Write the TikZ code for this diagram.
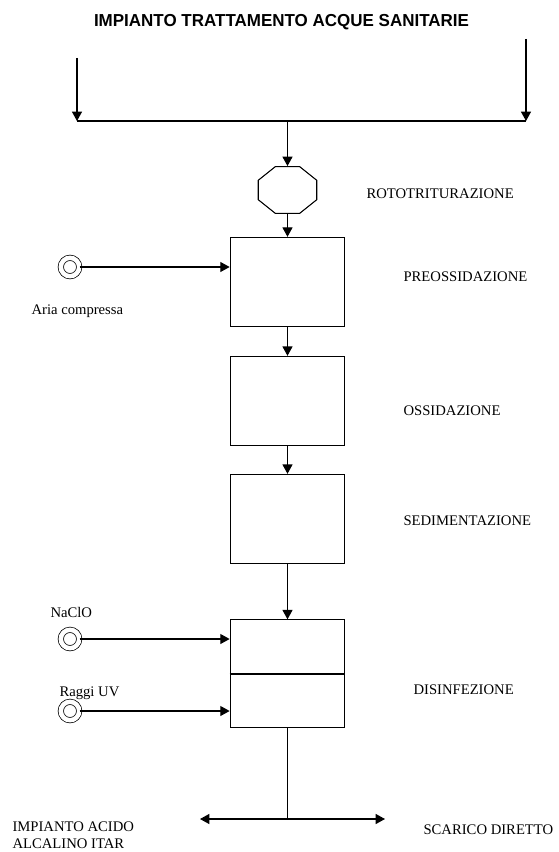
\documentclass[tikz,border=0pt]{standalone}
\usepackage{fontspec}
\setmainfont{Liberation Serif}
\newfontfamily\titlefont{Liberation Sans}
\usetikzlibrary{arrows.meta}
\usetikzlibrary{shapes.geometric,positioning}

\begin{document}
\begin{tikzpicture}[x=0.75pt,y=-0.75pt]
  \tikzset{stage/.style = {shape=rectangle,draw,minimum width=86pt,minimum height=67pt,inner sep=0pt}}
  \tikzset{halfstage/.style = {shape=rectangle,draw,minimum width=86pt,minimum height=40pt,inner sep=0pt}}
  \tikzset{grinder/.style = {regular polygon,regular polygon sides=8,draw,minimum size=38pt,inner sep=0pt,
      xscale=1.25,transform shape}}
  \tikzset{feed/.style = {shape=circle,draw,minimum size=13.8pt,inner sep=0pt,double,double distance=3.4pt,line width=0.55pt}}
  \tikzset{lbl/.style = {anchor=west,inner sep=0pt,font=\fontsize{11}{12}\selectfont}}
  \tikzset{edge/.style = {-{Triangle[length=7pt,width=7.5pt]}}}
  \tikzset{every path/.style={line width=0.8pt}}

  \useasboundingbox (0,0) rectangle (559,852);

  \node[font=\titlefont\bfseries\fontsize{13}{15}\selectfont] (title) at (281.5,22) {\scalebox{0.98}[1]{IMPIANTO TRATTAMENTO ACQUE SANITARIE}};

	\coordinate (inL) at (77,58);
	\coordinate (inR) at (526,39);
	\coordinate (jL) at (77,121);
	\coordinate (jR) at (526,121);
	\coordinate (jC) at (287.5,121);

	\node[grinder] (roto) at (287.5,190) {};
	\node[stage] (preox) at (287.5,282) {};
	\node[stage] (ox) at (287.5,401) {};
	\node[stage] (sed) at (287.5,519) {};
	\node[halfstage] (dis1) at (287.5,646.5) {};
	\node[halfstage] (dis2) at (287.5,700.5) {};
	\coordinate (split) at (287.5,819);
	\coordinate (outL) at (200,819);
	\coordinate (outR) at (385,819);

	\node[feed] (aria) at (70,267) {};
	\node[feed] (naclo) at (70,639) {};
	\node[feed] (uv) at (70,711) {};

	\node[lbl] at (366,194) {ROTOTRITURAZIONE};
	\node[lbl] at (403,277) {PREOSSIDAZIONE};
	\node[lbl] at (403,411) {OSSIDAZIONE};
	\node[lbl] at (403,521) {SEDIMENTAZIONE};
	\node[lbl] at (413,690) {DISINFEZIONE};
	\node[lbl] at (31,311) {Aria compressa};
	\node[lbl] at (50,612) {NaClO};
	\node[lbl] at (59,693) {Raggi UV};
	\node[lbl] at (423,830) {SCARICO DIRETTO};
	\node[lbl,align=left,font=\fontsize{11}{13}\selectfont] at (12,835) {IMPIANTO ACIDO\\ALCALINO ITAR};

    \foreach \from/\to in {inL/jL, inR/jR, jC/roto, roto/preox, preox/ox, ox/sed, sed/dis1, split/outL, split/outR}
    \draw[edge] (\from) -- (\to);

    \foreach \from/\to in {aria/preox, naclo/dis1, uv/dis2}
    \draw[edge] (\from) -- (\from -| \to.west);

    \draw (jL) -- (jR);
    \draw (dis2) -- (split);
    \draw[line width=1.6pt] (dis1.south west) -- (dis1.south east);

\end{tikzpicture}
\end{document}
